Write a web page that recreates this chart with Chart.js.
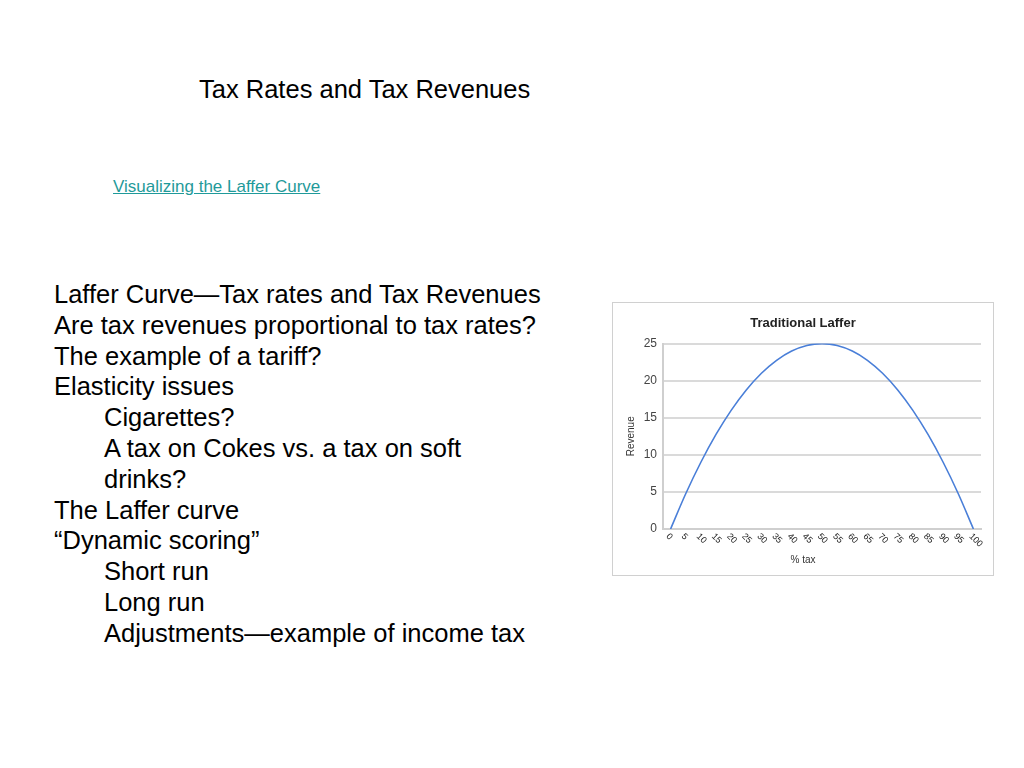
<!DOCTYPE html>
<html>
<head>
<meta charset="utf-8">
<script src="https://cdn.jsdelivr.net/npm/chart.js"></script>
<style>
  body { margin: 0; width: 1024px; height: 768px; background: #fff; font-family: "Liberation Sans", Arial, sans-serif; position: relative; overflow: hidden; }
  .heading { position: absolute; left: 199px; top: 75px; font-size: 25.5px; color: #000; }
  .link { position: absolute; left: 113px; top: 177px; font-size: 17px; color: #1f9a9a; text-decoration: underline; }
  .notes { position: absolute; left: 54px; top: 279px; font-size: 25.5px; line-height: 30.8px; color: #000; }
  .notes div.ind { padding-left: 50px; }
  .box { position: absolute; left: 612px; top: 302px; width: 380px; height: 272px; border: 1px solid #d0d0d0; }
</style>
</head>
<body>
<div class="heading">Tax Rates and Tax Revenues</div>
<div class="link">Visualizing the Laffer Curve</div>
<div class="notes">
  <div>Laffer Curve—Tax rates and Tax Revenues</div>
  <div>Are tax revenues proportional to tax rates?</div>
  <div>The example of a tariff?</div>
  <div>Elasticity issues</div>
  <div class="ind">Cigarettes?</div>
  <div class="ind">A tax on Cokes vs. a tax on soft</div>
  <div class="ind">drinks?</div>
  <div>The Laffer curve</div>
  <div>“Dynamic scoring”</div>
  <div class="ind">Short run</div>
  <div class="ind">Long run</div>
  <div class="ind">Adjustments—example of income tax</div>
</div>
<div class="box"><canvas id="laffer"></canvas></div>
<script>
// % tax categories and revenue
const taxRates = ["0", "5", "10", "15", "20", "25", "30", "35", "40", "45", "50",
                  "55", "60", "65", "70", "75", "80", "85", "90", "95", "100"];
const revenue = [0, 4.75, 9, 12.75, 16, 18.75, 21, 22.75, 24, 24.75, 25,
                 24.75, 24, 22.75, 21, 18.75, 16, 12.75, 9, 4.75, 0];
const revenueTicks = [0, 5, 10, 15, 20, 25];

const FONT = "'Liberation Sans', Arial, sans-serif";

// google-charts style slanted labels (clockwise, starting at the tick)
const slantLabels = {
  id: "slantLabels",
  afterDraw(chart) {
    const ctx = chart.ctx;
    const x = chart.scales.x;
    ctx.save();
    ctx.font = "9px " + FONT;
    ctx.fillStyle = "#222";
    ctx.textAlign = "left";
    ctx.textBaseline = "middle";
    taxRates.forEach((lbl, i) => {
      const px = x.getPixelForValue(i);
      ctx.save();
      ctx.translate(px - 3, x.top + 6);
      ctx.rotate(Math.PI / 4);
      ctx.fillText(lbl, 0, 0);
      ctx.restore();
    });
    ctx.restore();
  }
};

new Chart(document.getElementById("laffer"), {
  type: "line",
  data: {
    labels: taxRates,
    datasets: [{
      label: "Revenue",
      data: revenue,
      borderColor: "#4a7fd8",
      borderWidth: 1.6,
      pointRadius: 0,
      cubicInterpolationMode: "monotone",
      fill: false
    }]
  },
  options: {
    responsive: true,
    maintainAspectRatio: false,
    animation: false,
    layout: { padding: 0 },
    plugins: {
      legend: { display: false },
      tooltip: { enabled: false },
      title: {
        display: true,
        text: "Traditional Laffer",
        color: "#222",
        font: { family: FONT, size: 13, weight: "bold" },
        padding: { top: 13, bottom: 12 }
      },
      subtitle: {
        display: true,
        position: "bottom",
        text: "% tax",
        color: "#333",
        font: { family: FONT, size: 10 },
        padding: { top: 0, bottom: 9 }
      }
    },
    scales: {
      x: {
        offset: true,
        grid: { display: false, drawTicks: false },
        border: { color: "#cfcfcf", width: 2 },
        ticks: { display: false },
        afterFit(scale) { scale.height = 25; }
      },
      y: {
        min: 0,
        max: 25,
        afterBuildTicks(scale) { scale.ticks = revenueTicks.map(v => ({ value: v })); },
        grid: { color: "#dadada", lineWidth: 2, drawTicks: false },
        border: { color: "#cfcfcf", width: 2 },
        ticks: {
          color: "#444",
          padding: 6,
          font: { family: FONT, size: 12 }
        },
        title: {
          display: true,
          text: "Revenue",
          color: "#333",
          font: { family: FONT, size: 10 },
          padding: { top: 12, bottom: 4 }
        },
        afterFit(scale) { scale.width = 50; }
      },
      // empty right gutter so the titles stay centred on the whole box
      gutter: {
        type: "linear",
        position: "right",
        grid: { display: false },
        border: { display: false },
        ticks: { display: false },
        afterFit(scale) { scale.width = 12; }
      }
    }
  },
  plugins: [slantLabels]
});
</script>
</body>
</html>
